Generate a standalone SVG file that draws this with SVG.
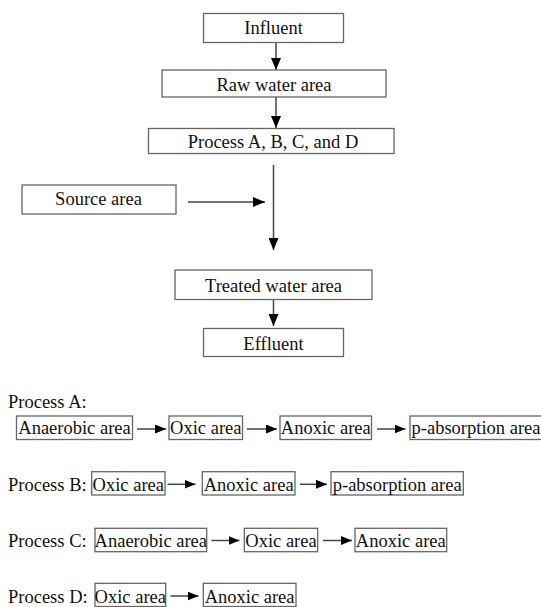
<svg xmlns="http://www.w3.org/2000/svg" width="541" height="607" viewBox="0 0 541 607">
<style>
.box{fill:#fff;stroke:#666;stroke-width:1.3}
.t{font-family:"Liberation Serif","Times New Roman",serif;font-size:18.5px;fill:#111;text-anchor:middle}
.l{font-family:"Liberation Serif","Times New Roman",serif;font-size:18.5px;fill:#111}
.c{stroke:#444;stroke-width:1.5;fill:none}
</style>
<defs>
<marker id="ah" viewBox="0 0 12 10" markerWidth="12" markerHeight="10" refX="12" refY="5" orient="auto" markerUnits="userSpaceOnUse"><path d="M0,0L12,5L0,10z" fill="#000"/></marker>
<marker id="as" viewBox="0 0 11 9" markerWidth="11" markerHeight="9" refX="11" refY="4.5" orient="auto" markerUnits="userSpaceOnUse"><path d="M0,0L11,4.5L0,9z" fill="#000"/></marker>
</defs>
<rect width="541" height="607" fill="#fff"/>
<g id="connectors">
<line class="c" x1="276" y1="42.5" x2="276" y2="70" marker-end="url(#ah)"/>
<line class="c" x1="276" y1="97" x2="276" y2="128" marker-end="url(#ah)"/>
<line class="c" x1="273.5" y1="165" x2="273.5" y2="250" marker-end="url(#ah)"/>
<line class="c" x1="188" y1="202" x2="265" y2="202" marker-end="url(#ah)"/>
<line class="c" x1="273.5" y1="299.5" x2="273.5" y2="326" marker-end="url(#ah)"/>
<line class="c" x1="137" y1="429" x2="166" y2="429" marker-end="url(#as)"/>
<line class="c" x1="247" y1="429" x2="277" y2="429" marker-end="url(#as)"/>
<line class="c" x1="377" y1="429" x2="405.5" y2="429" marker-end="url(#as)"/>
<line class="c" x1="167.5" y1="484.3" x2="195.5" y2="484.3" marker-end="url(#as)"/>
<line class="c" x1="300" y1="484.3" x2="327" y2="484.3" marker-end="url(#as)"/>
<line class="c" x1="211.5" y1="540.5" x2="239.5" y2="540.5" marker-end="url(#as)"/>
<line class="c" x1="323" y1="540.5" x2="352" y2="540.5" marker-end="url(#as)"/>
<line class="c" x1="170.5" y1="596" x2="198.5" y2="596" marker-end="url(#as)"/>
</g>
<g id="influent"><rect class="box" x="203.5" y="13.5" width="140" height="29"/><text class="t" x="273.5" y="33.5">Influent</text></g>
<g id="raw"><rect class="box" x="162" y="70" width="224" height="27"/><text class="t" x="274" y="90.5">Raw water area</text></g>
<g id="process"><rect class="box" x="148.5" y="128.5" width="245.5" height="25"/><text class="t" x="273" y="148.3">Process A, B, C, and D</text></g>
<g id="source"><rect class="box" x="22" y="185" width="154" height="29"/><text class="t" x="98.5" y="205">Source area</text></g>
<g id="treated"><rect class="box" x="175" y="270" width="197" height="29.5"/><text class="t" x="273.5" y="291.7">Treated water area</text></g>
<g id="effluent"><rect class="box" x="203.5" y="328.5" width="140" height="28"/><text class="t" x="273.5" y="350">Effluent</text></g>
<text class="l" x="8" y="407.5">Process A:</text>
<g id="a1"><rect class="box" x="16.5" y="416" width="116" height="23.5"/><text class="t" x="74.5" y="434.3">Anaerobic area</text></g>
<g id="a2"><rect class="box" x="169" y="416" width="73.5" height="23.5"/><text class="t" x="205.8" y="434.3">Oxic area</text></g>
<g id="a3"><rect class="box" x="280" y="416" width="91.5" height="23.5"/><text class="t" x="325.8" y="434.3">Anoxic area</text></g>
<g id="a4"><rect class="box" x="410" y="416" width="140" height="23.5"/><text class="t" x="476" y="434.3">p-absorption area</text></g>
<text class="l" x="8" y="490.7">Process B:</text>
<g id="b1"><rect class="box" x="91.7" y="471.7" width="73.3" height="23.3"/><text class="t" x="128.3" y="490.7">Oxic area</text></g>
<g id="b2"><rect class="box" x="202.3" y="471.7" width="92.7" height="23.3"/><text class="t" x="248.7" y="490.7">Anoxic area</text></g>
<g id="b3"><rect class="box" x="331" y="471.7" width="132.3" height="23.3"/><text class="t" x="397.2" y="490.7">p-absorption area</text></g>
<text class="l" x="8" y="546.5">Process C:</text>
<g id="c1"><rect class="box" x="95" y="528.3" width="111.7" height="23.4"/><text class="t" x="150.8" y="546.5">Anaerobic area</text></g>
<g id="c2"><rect class="box" x="244.3" y="528.3" width="73.4" height="23.4"/><text class="t" x="281" y="546.5">Oxic area</text></g>
<g id="c3"><rect class="box" x="355" y="528.3" width="91.7" height="23.4"/><text class="t" x="400.8" y="546.5">Anoxic area</text></g>
<text class="l" x="8" y="602.5">Process D:</text>
<g id="d1"><rect class="box" x="95" y="583.3" width="70.7" height="23.2"/><text class="t" x="130.3" y="602.5">Oxic area</text></g>
<g id="d2"><rect class="box" x="203.3" y="583.3" width="92.7" height="23.2"/><text class="t" x="249.6" y="602.5">Anoxic area</text></g>
</svg>
